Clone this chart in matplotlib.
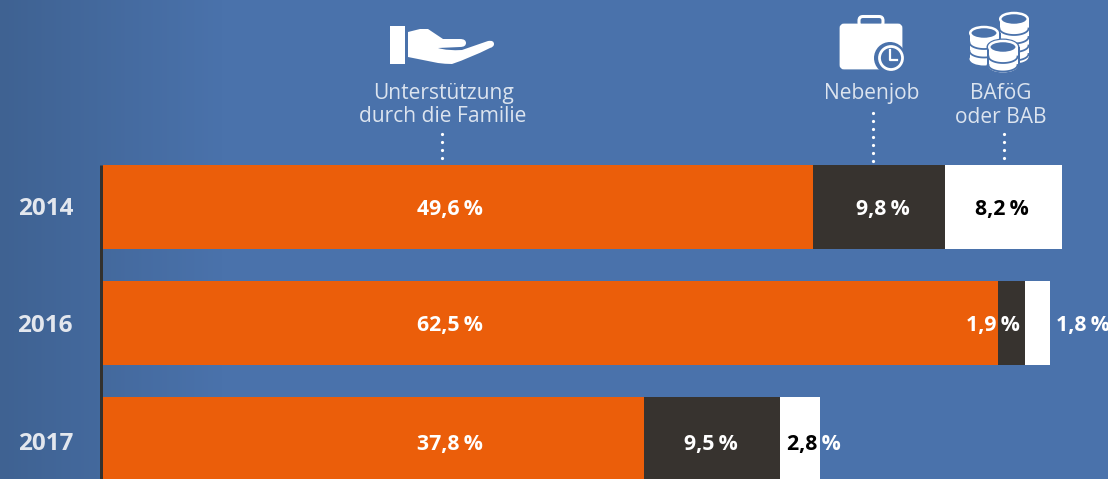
import numpy as np
import matplotlib
matplotlib.use("Agg")
import matplotlib.pyplot as plt
from matplotlib.patches import Rectangle, Circle, Ellipse, FancyBboxPatch, PathPatch
from matplotlib.path import Path

years = ["2014", "2016", "2017"]
familie = [49.6, 62.5, 37.8]
# drawn lengths (the 2014 Nebenjob bar is drawn shorter than its printed 9,8)
nebenjob = [9.2, 1.9, 9.5]
bafoeg = [8.2, 1.75, 2.8]
familie_labels = ["49,6\u2009%", "62,5\u2009%", "37,8\u2009%"]
nebenjob_labels = ["9,8\u2009%", "1,9\u2009%", "9,5\u2009%"]
bafoeg_labels = ["8,2\u2009%", "1,8\u2009%", "2,8\u2009%"]

W, H = 1108, 479
ORANGE, DARK, BLUE = "#EB5E0A", "#37332F", "#4A72AB"
TXT = "#DCE4EF"
plt.rcParams["font.family"] = ["Open Sans", "DejaVu Sans"]
px = 72 / 100

fig = plt.figure(figsize=(W / 100, H / 100), dpi=100, facecolor=BLUE)

# pixel-space layer: background gradient, icons, captions
bg = fig.add_axes([0, 0, 1, 1], zorder=0)
bg.axis("off")
t = np.clip(np.linspace(0, 1, W) / 0.2, 0, 1)[None, :, None]
c0 = np.array([0x3F, 0x62, 0x92]) / 255
c1 = np.array([0x4A, 0x72, 0xAB]) / 255
bg.imshow(c0 + (c1 - c0) * t, extent=(0, W, H, 0), aspect="auto", zorder=0)
bg.set_xlim(0, W); bg.set_ylim(H, 0)

# hand icon
bg.add_patch(Rectangle((390, 26), 15, 38, fc="white", ec="none", zorder=2))
M, L, C = Path.MOVETO, Path.LINETO, Path.CURVE3
hand = [((408, 32), M), ((420, 29), L), ((428, 29), L), ((443, 39), L), ((460, 39), L),
        ((466, 39), C), ((466, 43), L), ((466, 47), C), ((460, 47), L), ((438, 48), L),
        ((448, 51), C), ((462, 50), L), ((488, 41), L), ((494, 40), C), ((494, 44), L),
        ((494, 47), C), ((490, 48), L), ((470, 58), C), ((452, 64), L), ((445, 64), C),
        ((438, 63), L), ((408, 57), L), ((408, 32), L)]
bg.add_patch(PathPatch(Path([p for p, _ in hand], [c for _, c in hand]), fc="white", ec="none", zorder=2))

# briefcase icon
bg.add_patch(FancyBboxPatch((841, 25), 60, 43, boxstyle="round,pad=0,rounding_size=3",
                            mutation_aspect=1, fc="white", ec="white", lw=2, zorder=2))
bg.add_patch(FancyBboxPatch((859, 16.5), 24, 10, boxstyle="round,pad=0,rounding_size=4",
                            fc="none", ec="white", lw=2.2, zorder=2))
bg.add_patch(Circle((890, 58), 16, fc=BLUE, ec="none", zorder=3))
bg.add_patch(Circle((891, 58), 11.5, fc=BLUE, ec="white", lw=2.0, zorder=4))
bg.plot([890, 890, 897], [50, 60, 60], color="white", lw=1.6, zorder=5)

# coin stacks
def coins(cx, top, bottom, z):
    rx, ry, step = 14.5, 6.5, 8.5
    th = np.linspace(0, np.pi, 40)
    # halo separates a stack from the one behind
    bg.add_patch(Rectangle((cx - rx - 2, top), 2 * rx + 4, bottom - top, fc=BLUE, ec="none", zorder=z))
    bg.add_patch(Ellipse((cx, top), 2 * rx + 4, 2 * ry + 4, fc=BLUE, ec="none", zorder=z))
    bg.add_patch(Ellipse((cx, bottom), 2 * rx + 4, 2 * ry + 4, fc=BLUE, ec="none", zorder=z))
    bg.add_patch(Rectangle((cx - rx, top), 2 * rx, bottom - top, fc="white", ec="none", zorder=z + .1))
    bg.add_patch(Ellipse((cx, bottom), 2 * rx, 2 * ry, fc="white", ec="none", zorder=z + .1))
    yc = top + step + 1
    while yc < bottom:
        bg.plot(cx + rx * np.cos(th), yc + ry * np.sin(th), color=BLUE, lw=1.3, zorder=z + .2)
        yc += step
    bg.add_patch(Ellipse((cx, top), 2 * rx - 1.5, 2 * ry - 1, fc=BLUE, ec="white", lw=1.8, zorder=z + .3))

coins(1014, 19, 57, 2.0)
coins(984, 33, 59, 2.5)
coins(1003, 47, 66, 3.0)

# captions
def cap(x, y, s):
    bg.text(x, y, s, color=TXT, fontsize=21 * px, fontweight="normal", ha="center", va="center", zorder=6)

cap(444, 93, "Unterstützung")
cap(443, 116, "durch die Familie")
cap(872, 93, "Nebenjob")
cap(1001, 93, "BAföG")
cap(1001, 117, "oder BAB")

# dotted leaders
for x, y0 in [(442, 134), (873, 113), (1004, 134)]:
    ys = np.arange(y0, 166, 8)
    bg.plot([x] * len(ys), ys, ls="none", marker="o", ms=2.3, mfc="white", mec="none", zorder=6)

# data layer
x0, ppu = 103, 14.32
ax = fig.add_axes([x0 / W, 0, 1 - x0 / W, 1], zorder=1)
ax.patch.set_alpha(0)
ax.set_xlim(0, (W - x0) / ppu)
ax.set_ylim((H - 207) / 116, -207 / 116)
ax.axis("off")
y = np.arange(len(years))
h = 84 / 116
fam = np.array(familie); neb = np.array(nebenjob); baf = np.array(bafoeg)
ax.barh(y, fam, h, color=ORANGE)
ax.barh(y, neb, h, left=fam, color=DARK)
white_bars = ax.barh(y, baf, h, left=fam + neb, color="white")

lab = dict(fontsize=21.3 * px, fontweight="bold", va="center", ha="center")
ypos = [y[0] + 0.02, y[1] + 0.025, y[2] + 0.045]
for i in range(3):
    ax.text(24.2, ypos[i], familie_labels[i], color="white", **lab)
ax.text(fam[0] + neb[0] / 2 + 0.25, ypos[0], nebenjob_labels[0], color="white", **lab)
ax.text(fam[2] + neb[2] / 2 - 0.1, ypos[2], nebenjob_labels[2], color="white", **lab)
ax.text(fam[1] - 0.35, ypos[1], nebenjob_labels[1], color="white", **lab)
ax.text(fam[0] + neb[0] + baf[0] / 2 - 0.1, ypos[0], bafoeg_labels[0], color="black", **lab)
ax.text(fam[1] + neb[1] + baf[1] + 2.27, ypos[1], bafoeg_labels[1], color="white", **lab)
# 2017 label runs across the bar edge: black on white, white on the background
lx = fam[2] + neb[2] + baf[2] - 0.45
ax.text(lx, ypos[2], bafoeg_labels[2], color="black", zorder=5, clip_on=True, **lab).set_clip_path(white_bars[2])
outside = Rectangle((fam[2] + neb[2] + baf[2], 1.5), 8, 1.5, transform=ax.transData)
ax.text(lx, ypos[2], bafoeg_labels[2], color="white", zorder=5, clip_on=True, **lab).set_clip_path(outside)

# year labels + axis line (left of the data axes)
for i, yr in enumerate(years):
    ax.text(-4.03, ypos[i], yr, color="#E3E7EE", fontsize=24.3 * px, fontweight="bold",
            ha="center", va="center", clip_on=False)
bg.plot([101, 101], [165, H], color="#33312F", lw=3 * px, solid_capstyle="butt", zorder=6)

fig.savefig("out.png", dpi=100, facecolor=fig.get_facecolor())
